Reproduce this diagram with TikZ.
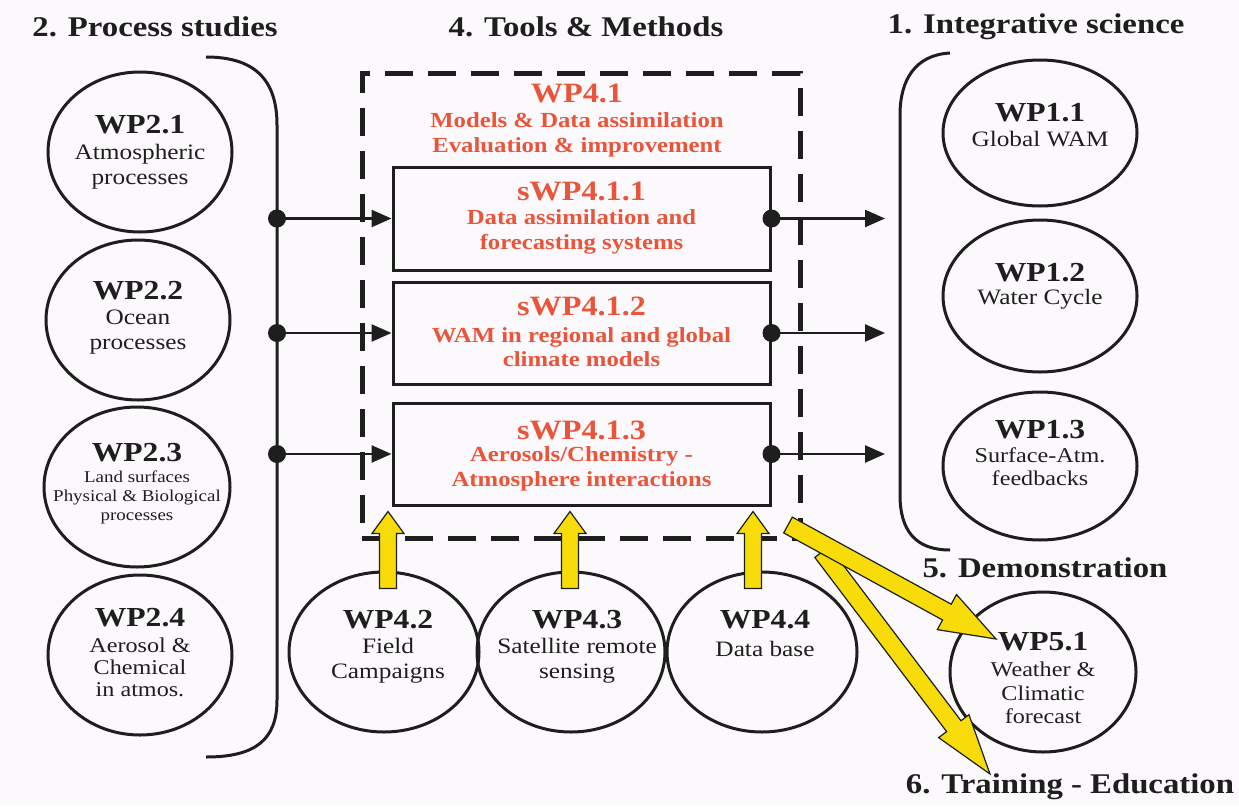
\documentclass[tikz,border=0pt]{standalone}
\usepackage{fontspec}
\setmainfont{Liberation Serif}[FakeStretch=1.15]
\usetikzlibrary{shapes.geometric,calc,arrows.meta}

\definecolor{bgc}{HTML}{FCF9FC}
\definecolor{ink}{HTML}{1E1E1E}
\definecolor{wpred}{HTML}{E8553A}
\definecolor{wpyellow}{HTML}{F7DC0A}

\tikzset{
  wp/.style={ellipse, draw=ink, line width=3pt, inner sep=0pt},
  ttl/.style={font=\bfseries\fontsize{27.5}{30}\selectfont, text=ink, inner sep=0pt},
  txt/.style={font=\fontsize{22}{25}\selectfont, text=ink, align=center, inner sep=0pt},
  heading/.style={font=\bfseries\fontsize{28.5}{30}\selectfont, text=ink, inner sep=0pt},
  subbox/.style={draw=ink, line width=3pt, minimum width=377pt, minimum height=102pt, inner sep=0pt},
  rtitle/.style={font=\bfseries\fontsize{28}{30}\selectfont, text=wpred, inner sep=0pt},
  rtxt/.style={font=\bfseries\fontsize{21.5}{24.5}\selectfont, text=wpred, align=center, inner sep=0pt},
  dot/.style={circle, fill=ink, minimum size=18pt, inner sep=0pt},
  link/.style={draw=ink, line width=2.5pt, -{Triangle[length=20pt,width=17pt]}},
  fat/.style={fill=wpyellow, draw=ink, line width=1.2pt, line join=miter},
  brace/.style={draw=ink, line width=3pt},
  dashbox/.style={draw=ink, line width=5pt, dash pattern=on 28pt off 15pt, inner sep=0pt},
}

% broad block arrow: tail, tip, shaft half-width, head half-width, head length
\newcommand\fatarrow[5]{%
  \coordinate (fa-t) at (#1);
  \coordinate (fa-h) at (#2);
  \coordinate (fa-b) at ($(fa-h)!#5!(fa-t)$);
  \filldraw[fat] ($(fa-t)!#3!90:(fa-h)$) -- ($(fa-b)!#3!-90:(fa-t)$)
    -- ($(fa-b)!#4!-90:(fa-t)$) -- (fa-h) -- ($(fa-b)!#4!90:(fa-t)$)
    -- ($(fa-b)!#3!90:(fa-t)$) -- ($(fa-t)!#3!-90:(fa-h)$) -- cycle;
}

\begin{document}
\begin{tikzpicture}[x=1pt,y=1pt]
\fill[bgc] (0,0) rectangle (1239,-806);
\useasboundingbox (0,0) rectangle (1239,-806);

% section headings
\node[heading] (h2) at (155,-27) {2. Process studies};
\node[heading] (h4) at (586,-27) {4. Tools \& Methods};
\node[heading] (h1) at (1036,-27) {1. Integrative science};
\node[heading] (h5) at (1045,-568) {5. Demonstration};

% work package 4.1 frame
\node[dashbox, minimum width=438pt, minimum height=465pt] (wp41) at (581,-305.5) {};
\node[rtitle] (wp41t) at (577,-93) {WP4.1};
\node[rtxt] (wp41b) at (577,-135) {Models \& Data assimilation\\Evaluation \& improvement};

% sub work packages
\node[subbox, minimum height=103pt] (s1) at (581.5,-218.5) {};
\node[rtitle] (s1t) at (581.5,-191) {sWP4.1.1};
\node[rtxt] (s1b) at (581.5,-232) {Data assimilation and\\forecasting systems};
\node[subbox] (s2) at (581.5,-333) {};
\node[rtitle] (s2t) at (581.5,-306) {sWP4.1.2};
\node[rtxt] (s2b) at (581.5,-347) {WAM in regional and global\\climate models};
\node[subbox] (s3) at (581.5,-454) {};
\node[rtitle] (s3t) at (581.5,-430) {sWP4.1.3};
\node[rtxt] (s3b) at (581.5,-469) {Aerosols/Chemistry -\\Atmosphere interactions};

% process studies
\node[wp, minimum width=184pt, minimum height=160pt] (wp21) at (140,-152) {};
\node[ttl] (wp21t) at (140,-125) {WP2.1};
\node[txt] (wp21b) at (140,-167) {Atmospheric\\processes};
\node[wp, minimum width=184pt, minimum height=160pt] (wp22) at (138,-320) {};
\node[ttl] (wp22t) at (138,-291) {WP2.2};
\node[txt] (wp22b) at (138,-332) {Ocean\\processes};
\node[wp, minimum width=186pt, minimum height=160pt] (wp23) at (137,-487) {};
\node[ttl] (wp23t) at (137,-453) {WP2.3};
\node[txt, font=\fontsize{16.5}{19}\selectfont] (wp23b) at (137,-497) {Land surfaces\\Physical \& Biological\\processes};
\node[wp, minimum width=184pt, minimum height=160pt] (wp24) at (140,-655) {};
\node[ttl] (wp24t) at (140,-618) {WP2.4};
\node[txt, font=\fontsize{21}{22}\selectfont] (wp24b) at (140,-667) {Aerosol \&\\Chemical\\in atmos.};

% integrative science
\node[wp, minimum width=194pt, minimum height=146pt] (wp11) at (1040,-133) {};
\node[ttl] (wp11t) at (1040,-113) {WP1.1};
\node[txt] (wp11b) at (1040,-139) {Global WAM};
\node[wp, minimum width=194pt, minimum height=152pt] (wp12) at (1040,-296) {};
\node[ttl] (wp12t) at (1040,-273) {WP1.2};
\node[txt] (wp12b) at (1040,-299) {Water Cycle};
\node[wp, minimum width=194pt, minimum height=148pt] (wp13) at (1040,-466) {};
\node[ttl] (wp13t) at (1040,-430) {WP1.3};
\node[txt, font=\fontsize{21}{23}\selectfont] (wp13b) at (1040,-467) {Surface-Atm.\\feedbacks};

% demonstration
\node[wp, minimum width=186pt, minimum height=160pt] (wp51) at (1043,-672) {};
\node[ttl] (wp51t) at (1043,-642) {WP5.1};
\node[txt, font=\fontsize{21}{23.5}\selectfont] (wp51b) at (1043,-693) {Weather \&\\Climatic\\forecast};

% tools
\node[wp, minimum width=190pt, minimum height=160pt] (wp42) at (384,-652) {};
\node[ttl] (wp42t) at (388,-620) {WP4.2};
\node[txt] (wp42b) at (388,-661) {Field\\Campaigns};
\node[wp, minimum width=188pt, minimum height=160pt] (wp43) at (571,-652) {};
\node[ttl] (wp43t) at (577,-620) {WP4.3};
\node[txt] (wp43b) at (577,-661) {Satellite remote\\sensing};
\node[wp, minimum width=190pt, minimum height=160pt] (wp44) at (762,-652) {};
\node[ttl] (wp44t) at (765,-620) {WP4.4};
\node[txt] (wp44b) at (765,-649) {Data base};

% brackets grouping the work packages
\draw[brace] (206,-57) .. controls (255,-57) and (277,-80) .. (277,-125)
  -- (277,-700) .. controls (277,-740) and (255,-757) .. (206,-757);
\draw[brace] (950,-53) .. controls (915,-55) and (900,-80) .. (900,-115)
  -- (900,-495) .. controls (900,-530) and (915,-550) .. (950,-550);

% inputs from the process studies
\node[dot] (ld1) at (277,-218.5) {};
\node[dot] (ld2) at (277,-333) {};
\node[dot] (ld3) at (277,-454) {};
\draw[link] (ld1.center) -- (s1.west);
\draw[link] (ld2.center) -- (s2.west);
\draw[link] (ld3.center) -- (s3.west);

% outputs to integrative science
\node[dot] (rd1) at (s1.east) {};
\node[dot] (rd2) at (s2.east) {};
\node[dot] (rd3) at (s3.east) {};
\coordinate (r1) at (885,-218.5);
\coordinate (r2) at (885,-333);
\coordinate (r3) at (885,-454);
\draw[link] (rd1.center) -- (r1);
\draw[link] (rd2.center) -- (r2);
\draw[link] (rd3.center) -- (r3);

% tool contributions
\fatarrow{$(wp42.north)+(4,-18)$}{$(wp42.north |- s3.south)+(4,-5)$}{8.5pt}{16pt}{22pt}
\fatarrow{$(wp43.north)+(-1,-18)$}{$(wp43.north |- s3.south)+(-1,-5)$}{8.5pt}{16pt}{22pt}
\fatarrow{$(wp44.north)+(-9,-18)$}{$(wp44.north |- s3.south)+(-9,-5)$}{8.5pt}{16pt}{22pt}

% transfer to demonstration and training
\fatarrow{822,-552}{990,-774}{9pt}{19pt}{60pt}
\fatarrow{788,-525}{996,-639}{9pt}{20pt}{56pt}

\node[heading] (h6) at (1070,-787) {6. Training - Education};
\end{tikzpicture}
\end{document}
